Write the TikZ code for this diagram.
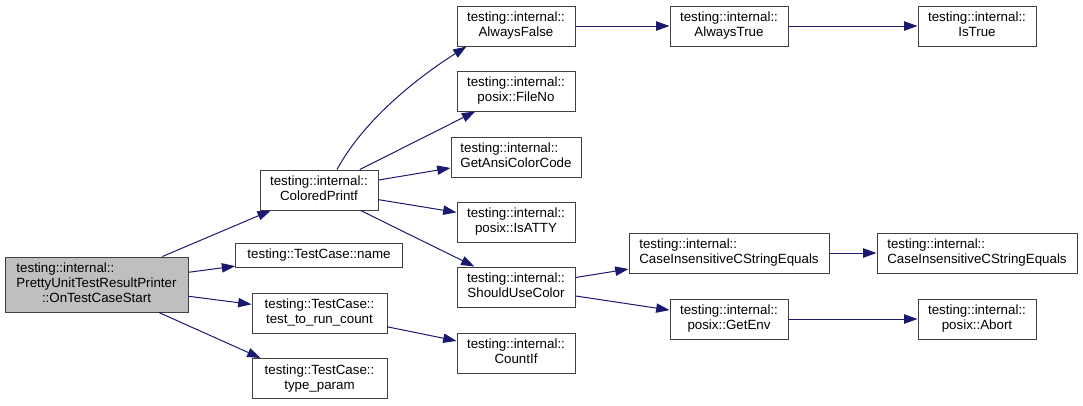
\documentclass[tikz,border=0pt]{standalone}
\usepackage{fontspec}
\setmainfont{Liberation Sans}
\usepackage{tikz}
\usetikzlibrary{arrows.meta, calc}
\definecolor{myblue}{RGB}{25,25,112}
\definecolor{mygray}{RGB}{191,191,191}
\definecolor{myframe}{RGB}{64,64,64}
\newcommand{\fnlabel}[2]{\begin{tabular}{@{}c@{}}\multicolumn{1}{@{}l@{}}{#1}\\#2\end{tabular}}
\tikzset{
  fnbox/.style={rectangle, draw=myframe, fill=white, line width=0.75pt,
    inner sep=0pt, minimum width=88.5pt, minimum height=30pt,
    font=\fontsize{10}{11.25}\selectfont},
  rootbox/.style={fnbox, fill=mygray, minimum width=137.25pt, minimum height=41.25pt},
  arrow/.style={-{Triangle[length=10pt, width=7pt]}, line width=0.75pt, color=myblue}
}

\begin{document}
\begin{tikzpicture}[x=0.75pt, y=-0.75pt]
  \useasboundingbox (0,0) rectangle (1083,405);

  % caller
  \node[rootbox] (root) at (96.5,284.5)
    {\begin{tabular}{@{}c@{}}\multicolumn{1}{@{}l@{}}{testing::internal::}\\
     \multicolumn{1}{@{}l@{}}{PrettyUnitTestResultPrinter}\\::OnTestCaseStart\end{tabular}};

  % first level
  \node[fnbox] (cpf) at (319,190) {\fnlabel{testing::internal::}{ColoredPrintf}};
  \node[fnbox, minimum width=125pt, minimum height=18pt] (name) at (319,255) {testing::TestCase::name};
  \node[fnbox, minimum width=101.25pt] (count) at (319.5,313) {\fnlabel{testing::TestCase::}{test\_to\_run\_count}};
  \node[fnbox, minimum width=101.25pt] (tparam) at (319.5,378.5) {\fnlabel{testing::TestCase::}{type\_param}};

  % second level
  \node[fnbox] (afalse) at (516,26) {\fnlabel{testing::internal::}{AlwaysFalse}};
  \node[fnbox] (fileno) at (516,91) {\fnlabel{testing::internal::}{posix::FileNo}};
  \node[fnbox, minimum width=97.5pt] (ansi) at (516,157) {\fnlabel{testing::internal::}{GetAnsiColorCode}};
  \node[fnbox] (isatty) at (516,222) {\fnlabel{testing::internal::}{posix::IsATTY}};
  \node[fnbox] (should) at (516,287) {\fnlabel{testing::internal::}{ShouldUseColor}};
  \node[fnbox] (countif) at (516,353) {\fnlabel{testing::internal::}{CountIf}};

  % third level
  \node[fnbox] (atrue) at (729,26) {\fnlabel{testing::internal::}{AlwaysTrue}};
  \node[fnbox, minimum width=150pt] (cistr) at (729,253) {\fnlabel{testing::internal::}{CaseInsensitiveCStringEquals}};
  \node[fnbox] (getenv) at (729,319) {\fnlabel{testing::internal::}{posix::GetEnv}};

  % fourth level
  \node[fnbox] (istrue) at (977,26) {\fnlabel{testing::internal::}{IsTrue}};
  \node[fnbox, minimum width=150pt] (cistrb) at (977,253) {\fnlabel{testing::internal::}{CaseInsensitiveCStringEquals}};
  \node[fnbox] (abort) at (977,319) {\fnlabel{testing::internal::}{posix::Abort}};

  \draw[arrow] (root) -- (cpf);
  \draw[arrow] (root) -- (name);
  \draw[arrow] (root) -- (count);
  \draw[arrow] (root) -- ($(tparam.north west)+(9,0)$);
  \draw[arrow] ($(cpf.north)+(18,0)$) .. controls (365,118) and (420,76) .. ($(afalse.south west)+(10,0)$);
  \draw[arrow] (cpf) -- (fileno);
  \draw[arrow] (cpf) -- (ansi);
  \draw[arrow] (cpf) -- (isatty);
  \draw[arrow] (cpf) -- (should);
  \draw[arrow] (count) -- (countif);
  \draw[arrow] (afalse) -- (atrue);
  \draw[arrow] (atrue) -- (istrue);
  \draw[arrow] (should) -- (cistr);
  \draw[arrow] (should) -- (getenv);
  \draw[arrow] (cistr) -- (cistrb);
  \draw[arrow] (getenv) -- (abort);
\end{tikzpicture}
\end{document}
